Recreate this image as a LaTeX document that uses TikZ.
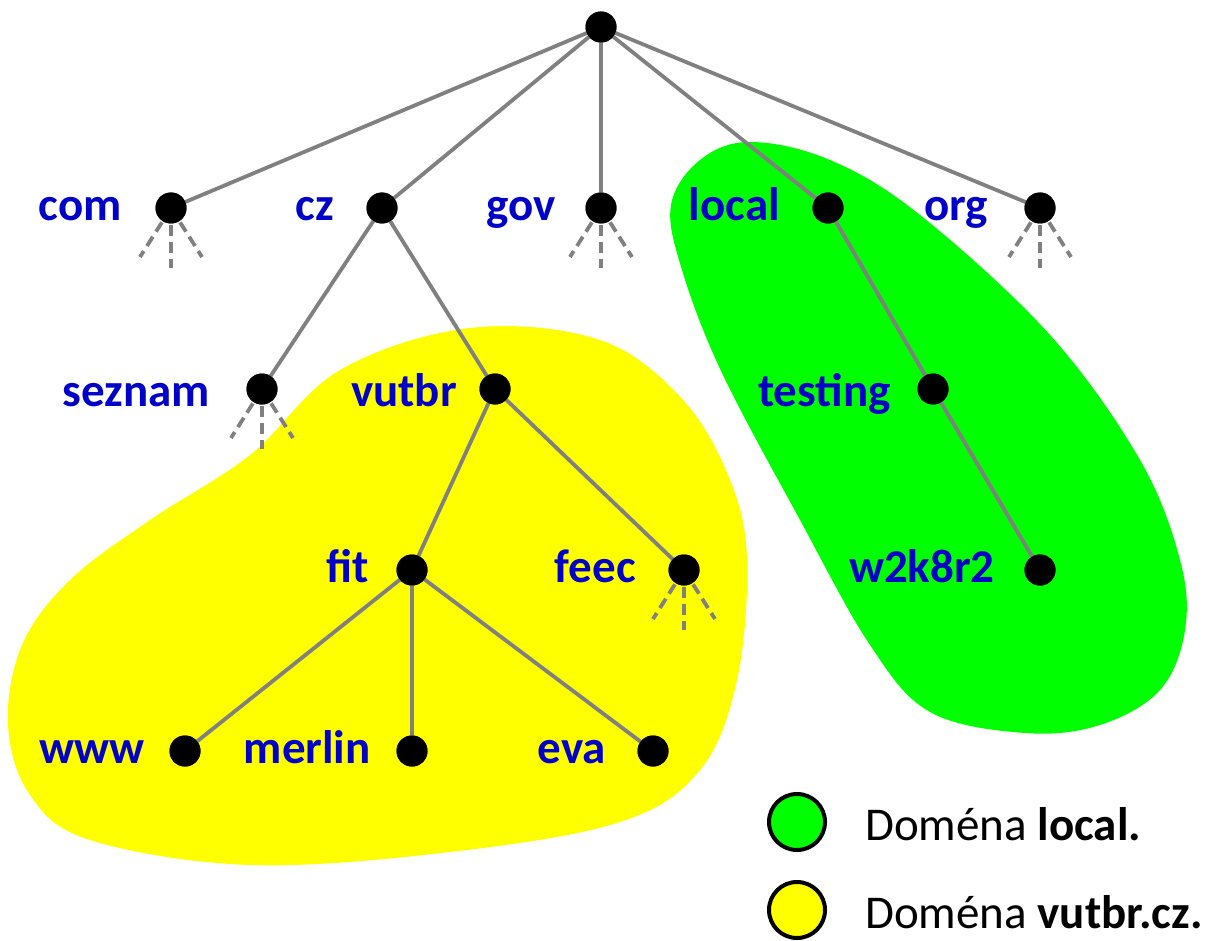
\documentclass[tikz,border=0pt]{standalone}
\usepackage{fontspec}
\setmainfont{Carlito}
\definecolor{blobyellow}{RGB}{255,255,0}
\definecolor{blobgreen}{RGB}{0,255,0}
\definecolor{lblblue}{RGB}{0,0,200}
\definecolor{linegray}{RGB}{128,128,128}
\begin{document}
\begin{tikzpicture}[x=1pt,y=-1pt,
  dot/.style={circle,fill=black,inner sep=0pt,minimum size=31pt},
  edge/.style={draw=linegray,line width=3.8pt},
  stub/.style={draw=linegray,line width=3.8pt,dash pattern=on 11pt off 6pt},
  lbl/.style={anchor=base east,inner sep=0pt,text=lblblue,font=\fontsize{47}{56}\selectfont\bfseries},
  leg/.style={circle,draw=black,line width=4pt,minimum size=56pt,inner sep=0pt},
  legtext/.style={anchor=base west,inner sep=0pt,font=\fontsize{47}{56}\selectfont}]
\useasboundingbox (0,0) rectangle (1206,941);
% blobs
\fill[blobyellow] plot[smooth cycle,tension=0.6] coordinates {(70,580) (150,520) (250,455) (340,370) (470,328) (600,340) (683,400) (730,480) (747,560) (737,680) (700,770) (620,822) (450,852) (250,865) (90,840) (30,795) (8,725) (22,645)};
\fill[blobgreen] plot[smooth cycle,tension=0.6] coordinates {(671,205) (700,160) (750,142) (830,160) (920,215) (1050,335) (1140,460) (1180,560) (1185,630) (1160,690) (1100,725) (1025,733) (930,712) (870,645) (800,520) (722,373) (682,270)};
% nodes
\node[dot] (root) at (601,27) {};
\node[dot] (com) at (171,208) {};
\node[dot] (cz) at (382,208) {};
\node[dot] (gov) at (601,208) {};
\node[dot] (local) at (828,208) {};
\node[dot] (org) at (1040,208) {};
\node[dot] (seznam) at (262,389) {};
\node[dot] (vutbr) at (495,389) {};
\node[dot] (testing) at (933,389) {};
\node[dot] (fit) at (412,570) {};
\node[dot] (feec) at (684,570) {};
\node[dot] (w2k8r2) at (1040,570) {};
\node[dot] (www) at (185,751) {};
\node[dot] (merlin) at (412,751) {};
\node[dot] (eva) at (653,751) {};
% edges
\foreach \a/\b in {root/com,root/cz,root/gov,root/local,root/org,cz/seznam,cz/vutbr,local/testing,testing/w2k8r2,vutbr/fit,vutbr/feec,fit/www,fit/merlin,fit/eva}
  \draw[edge] (\a.center) -- (\b.center);
\foreach \n in {com,gov,org,seznam,feec}{
  \draw[stub] (\n.center) -- ++(-31,49);
  \draw[stub] (\n.center) -- ++(0,60);
  \draw[stub] (\n.center) -- ++(31,49);
}
% dots on top of the connectors
\foreach \n in {root,com,cz,gov,local,org,seznam,vutbr,testing,fit,feec,w2k8r2,www,merlin,eva}
  \fill (\n.center) circle (15.5);
% labels
\node[lbl] (tcom) at (122,221) {com};
\node[lbl] (tcz) at (334,221) {cz};
\node[lbl] (tgov) at (556,221) {gov};
\node[lbl] (tlocal) at (780,221) {local};
\node[lbl] (torg) at (988,221) {org};
\node[lbl] (tseznam) at (210,406) {seznam};
\node[lbl] (tvutbr) at (457,406) {vutbr};
\node[lbl] (ttesting) at (891,406) {testing};
\node[lbl] (tfit) at (369,582) {fit};
\node[lbl] (tfeec) at (636,582) {feec};
\node[lbl] (tw2k8r2) at (995,582) {w2k8r2};
\node[lbl] (twww) at (145,763) {www};
\node[lbl] (tmerlin) at (371,763) {merlin};
\node[lbl] (teva) at (606,763) {eva};
% legend
\node[leg,fill=blobgreen] (lg) at (797,822) {};
\node[leg,fill=blobyellow] (ly) at (797,910) {};
\node[legtext] (tlg) at (865,840) {Doména \textbf{local.}};
\node[legtext] (tly) at (865,928) {Doména \textbf{vutbr.cz.}};
\end{tikzpicture}
\end{document}
